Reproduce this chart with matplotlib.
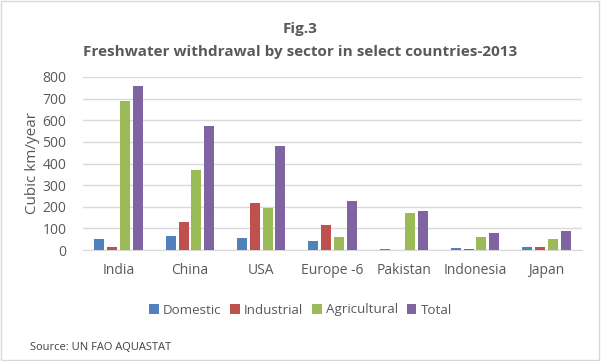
import numpy as np
import matplotlib
matplotlib.use("Agg")
import matplotlib.pyplot as plt
from matplotlib.patches import Rectangle

countries = ["India", "China", "USA", "Europe -6", "Pakistan", "Indonesia", "Japan"]
domestic = [51, 65, 56, 42, 5, 10, 15]
industrial = [14, 130, 218, 116, 0, 5, 15]
agricultural = [690, 370, 195, 60, 172, 60, 51]
total = [760, 574, 481, 228, 182, 80, 90]
series_names = ["Domestic", "Industrial", "Agricultural", "Total"]
colors = ["#4F81BD", "#C0504D", "#9BBB59", "#8064A2"]

plt.rcParams["font.family"] = ["Open Sans", "DejaVu Sans"]
TXT = "#595959"

fig = plt.figure(figsize=(6.01, 3.61), dpi=100)
ax = fig.add_axes([83 / 601, 1 - 250 / 361, 499 / 601, 173 / 361])

x = np.arange(len(countries))
w = 0.14
step = 0.18
for i, (vals, name, c) in enumerate(zip([domestic, industrial, agricultural, total],
                                        series_names, colors)):
    ax.bar(x + (i - 1.5) * step, vals, w, color=c, label=name, zorder=3)

ax.set_xlim(-0.5, len(countries) - 0.5)
ax.set_ylim(0, 800)
ax.set_yticks(range(0, 801, 100))
ax.set_xticks(x)
ax.set_xticklabels(countries)
ax.grid(axis="y", color="#D9D9D9", linewidth=1, zorder=0)
for s in ["top", "right", "left"]:
    ax.spines[s].set_visible(False)
ax.spines["bottom"].set_color("#D9D9D9")
ax.tick_params(axis="both", length=0, colors=TXT, labelsize=10)
ax.tick_params(axis="x", pad=9)
ax.tick_params(axis="y", pad=12)
ax.set_ylabel("Cubic km/year", color=TXT, fontsize=11, labelpad=2)

fig.text(0.5, 1 - 29 / 361, "Fig.3", ha="center", va="center",
         fontsize=11, fontweight="bold", color=TXT)
fig.text(0.5, 1 - 52 / 361, "Freshwater withdrawal by sector in select countries-2013",
         ha="center", va="center", fontsize=11, fontweight="bold", color=TXT)

fig.legend(loc="center", bbox_to_anchor=(0.5, 1 - 310 / 361), ncol=4, frameon=False,
           fontsize=9.6, handlelength=0.7, handleheight=0.7, handletextpad=0.3,
           columnspacing=0.7, labelcolor=TXT)

fig.text(30 / 601, 1 - 348 / 361, "Source: UN FAO AQUASTAT", ha="left", va="center",
         fontsize=8, color="#404040")

fig.patches.append(Rectangle((0.002, 0.003), 0.995, 0.994, transform=fig.transFigure,
                             fill=False, edgecolor="#D9D9D9", linewidth=1))

fig.savefig("out.png", dpi=100)
